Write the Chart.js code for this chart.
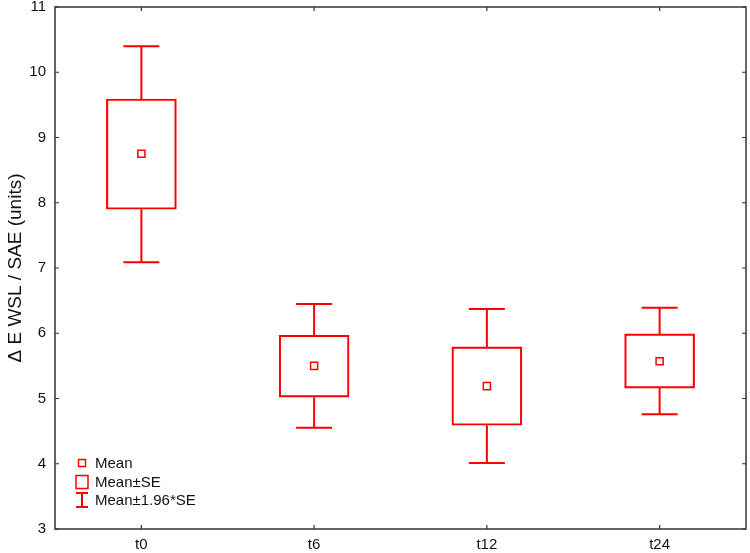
<!DOCTYPE html>
<html>
<head>
<meta charset="utf-8">
<script src="https://cdn.jsdelivr.net/npm/chart.js@4"></script>
<style>
  html, body { margin: 0; padding: 0; background: #fff; }
  #wrap { width: 750px; height: 553px; }
</style>
</head>
<body>
<div id="wrap"><canvas id="box-chart"></canvas></div>
<script>
const categories = ['t0', 't6', 't12', 't24'];
const means = [8.75, 5.50, 5.19, 5.57];
const seLow = [7.90, 5.02, 4.59, 5.16];
const seHigh = [9.59, 5.97, 5.79, 5.99];
const ciLow = [7.09, 4.55, 4.01, 4.76];
const ciHigh = [10.40, 6.45, 6.37, 6.39];
const yTicks = [3, 4, 5, 6, 7, 8, 9, 10, 11];

const RED = '#ff0000';
const FONT = "'Liberation Sans', Arial, sans-serif";

// whiskers, frame with inward ticks, legend
const boxExtras = {
    id: 'boxExtras',
    afterDatasetsDraw(chart) {
        const { ctx, chartArea: a, scales: { x, y } } = chart;
        ctx.save();
        ctx.strokeStyle = RED;
        ctx.lineWidth = 2;
        categories.forEach((c, i) => {
            const px = x.getPixelForValue(i);
            ctx.beginPath();
            ctx.moveTo(px, y.getPixelForValue(ciHigh[i]));
            ctx.lineTo(px, y.getPixelForValue(seHigh[i]));
            ctx.moveTo(px, y.getPixelForValue(seLow[i]));
            ctx.lineTo(px, y.getPixelForValue(ciLow[i]));
            [ciHigh[i], ciLow[i]].forEach(v => {
                const py = y.getPixelForValue(v);
                ctx.moveTo(px - 18, py);
                ctx.lineTo(px + 18, py);
            });
            ctx.stroke();
        });

        // frame
        ctx.strokeStyle = '#333';
        ctx.lineWidth = 1.5;
        ctx.strokeRect(a.left, a.top, a.right - a.left, a.bottom - a.top);
        ctx.lineWidth = 1.2;
        ctx.beginPath();
        yTicks.forEach(v => {
            const py = y.getPixelForValue(v);
            ctx.moveTo(a.left, py); ctx.lineTo(a.left + 4, py);
            ctx.moveTo(a.right, py); ctx.lineTo(a.right - 4, py);
        });
        categories.forEach((c, i) => {
            const px = x.getPixelForValue(i);
            ctx.moveTo(px, a.top); ctx.lineTo(px, a.top + 4);
            ctx.moveTo(px, a.bottom); ctx.lineTo(px, a.bottom - 4);
        });
        ctx.stroke();

        // legend
        const lx = a.left + 27;
        const tx = a.left + 40;
        const rows = [a.bottom - 66, a.bottom - 47, a.bottom - 29];
        ctx.strokeStyle = RED;
        ctx.lineWidth = 1.5;
        ctx.strokeRect(lx - 3.5, rows[0] - 3.5, 7, 7);
        ctx.strokeRect(lx - 6, rows[1] - 6.5, 12, 13);
        ctx.lineWidth = 2;
        ctx.beginPath();
        ctx.moveTo(lx - 6, rows[2] - 7); ctx.lineTo(lx + 6, rows[2] - 7);
        ctx.moveTo(lx, rows[2] - 7); ctx.lineTo(lx, rows[2] + 7);
        ctx.moveTo(lx - 6, rows[2] + 7); ctx.lineTo(lx + 6, rows[2] + 7);
        ctx.stroke();
        ctx.fillStyle = '#111';
        ctx.font = '15px ' + FONT;
        ctx.textBaseline = 'middle';
        ctx.fillText('Mean', tx, rows[0] + 1);
        ctx.fillText('Mean±SE', tx, rows[1] + 1);
        ctx.fillText('Mean±1.96*SE', tx, rows[2] + 1);
        ctx.restore();
    }
};

const data = {
    labels: categories,
    datasets: [
        {
            type: 'line',
            label: 'Mean',
            data: means,
            showLine: false,
            pointStyle: 'rect',
            pointRadius: 5,
            pointBorderWidth: 1.5,
            pointBorderColor: RED,
            pointBackgroundColor: 'rgba(0,0,0,0)',
        },
        {
            type: 'bar',
            label: 'Mean±SE',
            data: categories.map((c, i) => [seLow[i], seHigh[i]]),
            backgroundColor: 'rgba(0,0,0,0)',
            borderColor: RED,
            borderWidth: 1.5,
            borderSkipped: false,
            barThickness: 70,
            grouped: false,
        },
    ],
};

const config = {
    type: 'bar',
    data,
    options: {
        responsive: true,
        maintainAspectRatio: false,
        animation: false,
        layout: { autoPadding: false, padding: { top: 7, right: 4, left: 0, bottom: 0 } },
        plugins: {
            legend: { display: false },
            tooltip: { enabled: false },
        },
        scales: {
            x: {
                offset: true,
                grid: { display: false, drawTicks: false },
                border: { display: false },
                ticks: { color: '#111', font: { family: FONT, size: 15 }, padding: 7 },
                afterFit: s => {
                    s.height = 24;
                    s.paddingLeft = 0;
                    s.paddingRight = 0;
                },
            },
            y: {
                min: 3,
                max: 11,
                grid: { display: false, drawTicks: false },
                border: { display: false },
                ticks: { stepSize: 1, color: '#111', font: { family: FONT, size: 15 }, padding: 9 },
                title: {
                    display: true,
                    text: 'Δ E WSL / SAE (units)',
                    color: '#111',
                    font: { family: FONT, size: 19 },
                    padding: { top: 4, bottom: 0 },
                },
                afterFit: s => {
                    s.width = 55;
                    s.paddingTop = 0;
                    s.paddingBottom = 0;
                },
            },
        },
    },
    plugins: [boxExtras],
};

const boxChart = new Chart(document.getElementById('box-chart'), config);
</script>
</body>
</html>
